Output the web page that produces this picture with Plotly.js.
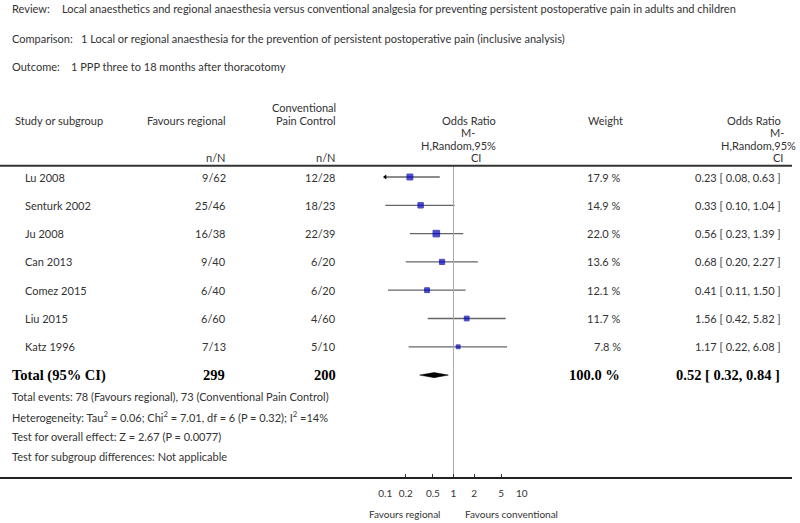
<!DOCTYPE html>
<html>
<head>
<meta charset="utf-8">
<script src="https://cdn.plot.ly/plotly-3.0.1.min.js"></script>
<style>html,body{margin:0;padding:0;background:#fff;}#chart{width:800px;height:523px;}</style>
</head>
<body>
<div id="chart"></div>
<script>
// ---- data ----
const studies   = ['Lu 2008','Senturk 2002','Ju 2008','Can 2013','Comez 2015','Liu 2015','Katz 1996'];
const evReg     = [9, 25, 16, 9, 6, 6, 7];
const nReg      = [62, 46, 38, 40, 40, 60, 13];
const evCon     = [12, 18, 22, 6, 6, 4, 5];
const nCon      = [28, 23, 39, 20, 20, 60, 10];
const weights   = [17.9, 14.9, 22.0, 13.6, 12.1, 11.7, 7.8];
const orVal     = [0.23, 0.33, 0.56, 0.68, 0.41, 1.56, 1.17];
const ciLo      = [0.08, 0.10, 0.23, 0.20, 0.11, 0.42, 0.22];
const ciHi      = [0.63, 1.04, 1.39, 2.27, 1.50, 5.82, 6.08];
const totalReg  = 299;
const totalCon  = 200;
const totalW    = 100.0;
const totalOR   = 0.52;
const totalLo   = 0.32;
const totalHi   = 0.84;
const tickVals  = [0.1, 0.2, 0.5, 1, 2, 5, 10];
const tickText  = ['0.1','0.2','0.5','1','2','5','10'];
const footnotes = [
  'Total events: 78 (Favours regional), 73 (Conventional Pain Control)',
  'Heterogeneity: Tau<sup>2</sup> = 0.06; Chi<sup>2</sup> = 7.01, df = 6 (P = 0.32); I<sup>2</sup> =14%',
  'Test for overall effect: Z = 2.67 (P = 0.0077)',
  'Test for subgroup differences: Not applicable'
];

// ---- layout helpers ----
const W = 800, H = 523;
const px = x => x / W;
const py = y => 1 - y / H;
const FONT = 'Lato, "Open Sans", sans-serif';
const TXT = '#333';
const SERIF = '"Liberation Serif", "DejaVu Serif", serif';
const rowY0 = 177, rowStep = 28.3, axisBottom = 478;
const rows = studies.map((_, i) => i);
const totalRow = studies.length;
const xMin = 0.1, xMax = 10;

const traces = [];
// CI lines
const lx = [], ly = [];
rows.forEach(i => { lx.push(ciLo[i], ciHi[i], null); ly.push(i, i, null); });
traces.push({x: lx, y: ly, mode: 'lines', line: {color: '#666', width: 1.3}, hoverinfo: 'skip'});
// reference line at 1
traces.push({x: [1, 1], y: [(165.7 - rowY0) / rowStep, (axisBottom - rowY0) / rowStep], mode: 'lines',
  line: {color: '#aaa', width: 1}, hoverinfo: 'skip'});
// markers
traces.push({x: orVal, y: rows, mode: 'markers',
  marker: {symbol: 'square', color: '#0000cc', size: weights.map(w => 14 * Math.sqrt(w / 100)),
           line: {color: '#000099', width: 1}}, hoverinfo: 'skip'});
// clipped-CI arrowheads (lower limit below axis minimum)
const clipRows = rows.filter(i => ciLo[i] < xMin);
traces.push({x: clipRows.map(() => xMin), y: clipRows, mode: 'markers', cliponaxis: false,
  marker: {symbol: 'triangle-left', size: 4.5, color: '#000'}, hoverinfo: 'skip'});
// diamond
const dh = 0.09;
traces.push({x: [totalLo, totalOR, totalHi, totalOR, totalLo], y: [totalRow, totalRow - dh, totalRow, totalRow + dh, totalRow],
  mode: 'lines', fill: 'toself', fillcolor: '#000', line: {color: '#000', width: 0.5}, hoverinfo: 'skip'});

const ann = [];
function A(text, x, y, opts) {
  ann.push(Object.assign({text: text, x: px(x), y: py(y), xref: 'paper', yref: 'paper', showarrow: false,
    xanchor: 'left', yanchor: 'middle', font: {family: FONT, size: 11, color: TXT}}, opts || {}));
}
function R(text, x, row, opts) {
  ann.push(Object.assign({text: text, x: px(x), y: row, xref: 'paper', yref: 'y', showarrow: false,
    xanchor: 'right', yanchor: 'middle', yshift: 0, font: {family: FONT, size: 11, color: TXT}}, opts || {}));
}
// top lines
A('Review:', 10, 9);
A('Local anaesthetics and regional anaesthesia versus conventional analgesia for preventing persistent postoperative pain in adults and children', 60, 9);
A('Comparison:', 10, 38);
A('1 Local or regional anaesthesia for the prevention of persistent postoperative pain (inclusive analysis)', 79, 38);
A('Outcome:', 10, 66);
A('1 PPP three to 18 months after thoracotomy', 69, 66);
// headers
A('Study or subgroup', 13, 121);
A('Favours regional', 228, 121, {xanchor: 'right'});
A('Conventional', 338, 108, {xanchor: 'right'});
A('Pain Control', 338, 121, {xanchor: 'right'});
A('n/N', 228, 157, {xanchor: 'right'});
A('n/N', 338, 157, {xanchor: 'right'});
A('Odds Ratio', 498, 121, {xanchor: 'right'});
A('M-', 468, 133, {xanchor: 'center'});
A('H,Random,95%', 498, 145, {xanchor: 'right'});
A('CI', 476, 157, {xanchor: 'center'});
A('Weight', 605, 121, {xanchor: 'center'});
A('Odds Ratio', 783, 121, {xanchor: 'right'});
A('M-', 777, 133, {xanchor: 'center'});
A('H,Random,95%', 798, 145, {xanchor: 'right'});
A('CI', 778, 157, {xanchor: 'center'});
// study rows
rows.forEach(i => {
  R(studies[i], 23, i, {xanchor: 'left'});
  R(evReg[i] + '/' + nReg[i], 228, i);
  R(evCon[i] + '/' + nCon[i], 338, i);
  R(weights[i].toFixed(1) + ' %', 623, i);
  R(orVal[i].toFixed(2) + ' [ ' + ciLo[i].toFixed(2) + ', ' + ciHi[i].toFixed(2) + ' ]', 783, i);
});
// total row
const bold = {family: SERIF, size: 14.5, color: '#000'};
R('<b>Total (95% CI)</b>', 10, totalRow, {xanchor: 'left', font: bold});
R('<b>' + totalReg + '</b>', 227, totalRow, {font: bold});
R('<b>' + totalCon + '</b>', 338, totalRow, {font: bold});
R('<b>' + totalW.toFixed(1) + ' %</b>', 622, totalRow, {font: bold});
R('<b>' + totalOR.toFixed(2) + ' [ ' + totalLo.toFixed(2) + ', ' + totalHi.toFixed(2) + ' ]</b>', 782, totalRow, {font: bold});
// footnotes
footnotes.forEach((t, k) => A(t, 10, 396 + 20 * k));
// axis side labels
A('Favours regional', 442, 514, {xanchor: 'right', font: {family: FONT, size: 10, color: TXT}});
A('Favours conventional', 463, 514, {xanchor: 'left', font: {family: FONT, size: 10, color: TXT}});

const layout = {
  width: W, height: H,
  margin: {l: 0, r: 0, t: 0, b: 0},
  paper_bgcolor: '#fff', plot_bgcolor: 'rgba(0,0,0,0)',
  showlegend: false,
  xaxis: {
    type: 'log', range: [Math.log10(xMin), Math.log10(xMax)],
    domain: [385.2 / W, 521.8 / W],
    tickvals: tickVals, ticktext: tickText,
    ticks: 'inside', ticklen: 4, tickwidth: 1, tickcolor: '#333',
    ticklabelstandoff: 8,
    showgrid: false, zeroline: false, showline: false,
    tickfont: {family: FONT, size: 10, color: TXT}, fixedrange: true
  },
  yaxis: {
    domain: [(H - axisBottom) / H, 1],
    range: [(axisBottom - rowY0) / rowStep, -rowY0 / rowStep],
    visible: false, fixedrange: true
  },
  shapes: [
    {type: 'line', xref: 'paper', yref: 'paper', x0: 0, x1: px(792), y0: py(165.7), y1: py(165.7), line: {color: '#333', width: 2}},
    {type: 'line', xref: 'paper', yref: 'paper', x0: 0, x1: px(792), y0: py(axisBottom), y1: py(axisBottom), line: {color: '#222', width: 2}}
  ],
  annotations: ann
};
Plotly.newPlot('chart', traces, layout, {staticPlot: true, displayModeBar: false});
</script>
</body>
</html>
